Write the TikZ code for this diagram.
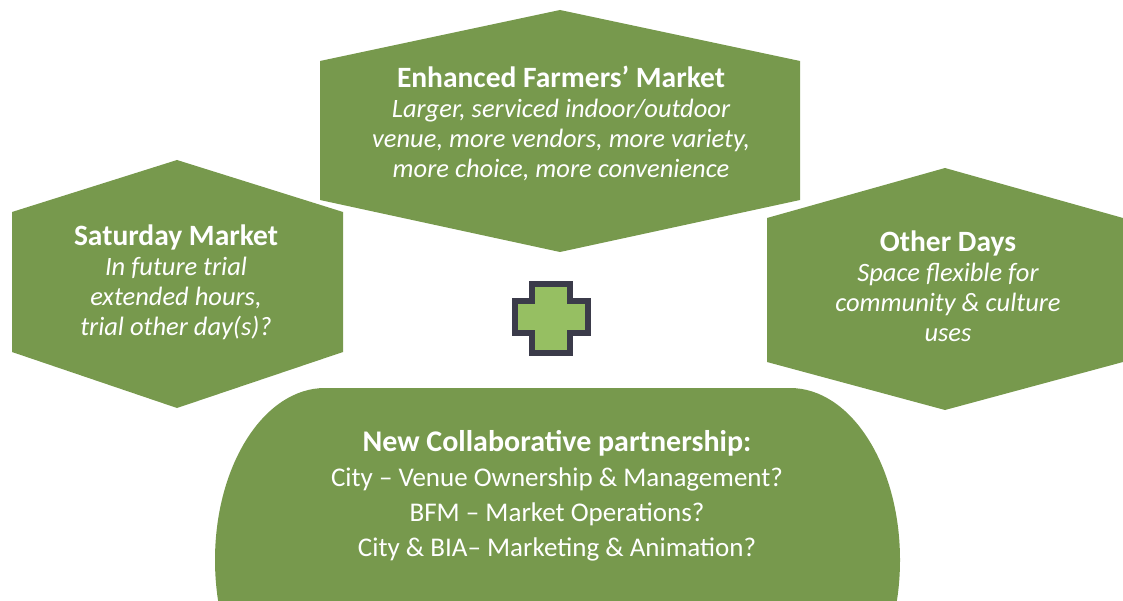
\documentclass[tikz,border=0pt]{standalone}
\usepackage{fontspec}
\setmainfont{Carlito}
\definecolor{leaf}{HTML}{77994D}
\definecolor{crossfill}{HTML}{96BF62}
\definecolor{crossline}{HTML}{3B3B4A}
% heading and body lines inside the panels
\newcommand\panelhead[1]{{\fontsize{29.5}{30}\selectfont\bfseries #1}}
\newcommand\panelsub[1]{{\fontsize{26.5}{30}\selectfont\itshape #1}}
\newcommand\basehead[1]{{\fontsize{30}{35}\selectfont\bfseries #1}}
\newcommand\baseline[1]{{\fontsize{27}{35}\selectfont #1}}
\begin{document}
\begin{tikzpicture}[x=1pt,y=-1pt,
  panel/.style={fill=leaf},
  paneltext/.style={text=white, align=center, inner sep=0pt,
    font=\fontsize{26.5}{30}\selectfont},
  basetext/.style={text=white, align=center, inner sep=0pt,
    font=\fontsize{27}{35}\selectfont}]
\useasboundingbox (0,0) rectangle (1123,601);
\begin{scope}
\clip (0,0) rectangle (1123,601);
% hexagonal panels
\path[panel] (320,61) -- (560,10) -- (800,61) -- (800,200) -- (560,252) -- (320,200) -- cycle;
\path[panel] (12,212) -- (177,160) -- (343,212) -- (343,352) -- (177,408) -- (12,352) -- cycle;
\path[panel] (767,218) -- (945,168) -- (1123,218) -- (1123,362) -- (945,410) -- (767,362) -- cycle;
% rounded base panel
\fill[leaf] (325,388) rectangle (790,640);
\fill[leaf] (325,560) ellipse [x radius=110, y radius=172];
\fill[leaf] (790,560) ellipse [x radius=110, y radius=172];
\end{scope}
% plus sign
\draw[fill=crossfill, draw=crossline, line width=6.5pt, line join=miter]
  (532,284) -- (570,284) -- (570,301) -- (588,301) -- (588,333) -- (570,333)
  -- (570,353) -- (532,353) -- (532,333) -- (515,333) -- (515,301) -- (532,301) -- cycle;
% labels
\node[paneltext] (fm) at (561,123) {\panelhead{Enhanced Farmers’ Market}\\\panelsub{Larger, serviced indoor/outdoor}\\\panelsub{venue, more vendors, more variety,}\\\panelsub{more choice, more convenience}};
\node[paneltext] (sat) at (176,282) {\panelhead{Saturday Market}\\\panelsub{In future trial}\\\panelsub{extended hours,}\\\panelsub{trial other day(s)?}};
\node[paneltext] (other) at (948,286) {\panelhead{Other Days}\\\panelsub{Space flexible for}\\\panelsub{community \& culture}\\\panelsub{uses}};
\node[basetext] (partner) at (557,496) {\basehead{New Collaborative partnership:}\\\baseline{City – Venue Ownership \& Management?}\\\baseline{BFM – Market Operations?}\\\baseline{City \& BIA– Marketing \& Animation?}};
\end{tikzpicture}
\end{document}
